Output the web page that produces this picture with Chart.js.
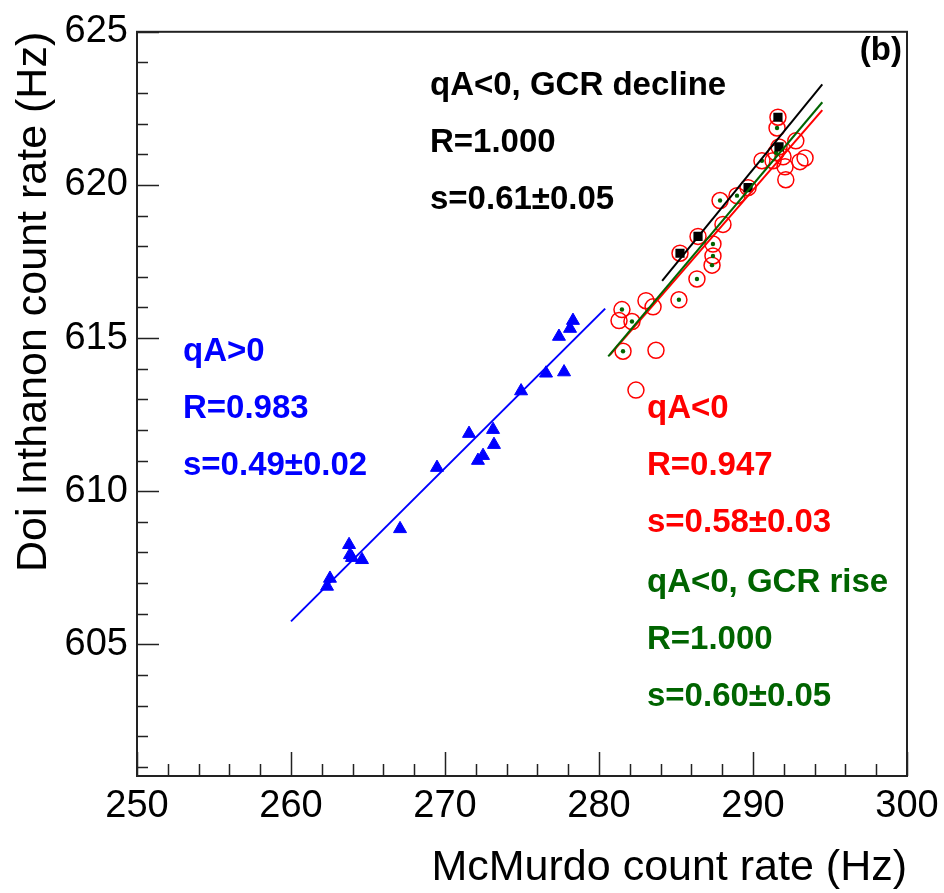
<!DOCTYPE html>
<html>
<head>
<meta charset="utf-8">
<script src="https://cdn.jsdelivr.net/npm/chart.js@4"></script>
<style>
  html, body { margin: 0; padding: 0; background: #fff; }
  #wrap { width: 944px; height: 893px; }
</style>
</head>
<body>
<div id="wrap"><canvas id="c" width="944" height="893"></canvas></div>
<script>
// ─── data ───
// qA>0 (blue triangles)
const posX = [262.34, 262.53, 263.77, 263.83, 263.96, 264.61, 267.08, 269.48, 271.56, 272.14,
              272.47, 273.12, 273.18, 274.94, 276.56, 277.73, 277.40, 278.12, 278.31];
const posY = [606.89, 607.15, 608.25, 607.92, 607.83, 607.76, 608.77, 610.77, 611.88, 611.00,
              611.16, 612.01, 611.52, 613.27, 613.85, 613.89, 615.05, 615.31, 615.57];

// qA<0 (red open circles)
const negX = [291.62, 291.56, 291.69, 292.78, 291.49, 290.58, 291.95, 292.08, 293.05, 293.38,
              292.13, 289.68, 288.96, 287.86, 288.05, 286.43, 287.40, 285.26, 287.40, 287.34,
              286.36, 285.19, 283.05, 283.51, 281.49, 281.30, 282.14, 281.56, 283.70, 282.40, 291.30];
const negY = [622.21, 621.86, 621.24, 621.44, 621.05, 620.79, 620.92, 620.59, 620.76, 620.88,
              620.17, 619.91, 619.65, 619.49, 618.71, 618.32, 618.07, 617.77, 617.68, 617.38,
              616.93, 616.25, 616.22, 616.02, 615.93, 615.57, 615.54, 614.57, 614.60, 613.30, 620.79];

// qA<0, GCR decline (black squares)
const declX = [291.62, 291.69, 289.68, 286.43, 285.26];
const declY = [622.21, 621.24, 619.91, 618.32, 617.77];

// qA<0, GCR rise (green dots)
const riseX = [291.56, 291.49, 290.58, 288.96, 287.86, 287.40, 287.40, 287.34, 286.36, 285.19,
               281.49, 282.14, 281.56];
const riseY = [621.86, 621.05, 620.79, 619.65, 619.49, 618.07, 617.68, 617.38, 616.93, 616.25,
               615.93, 615.54, 614.57];

// fit lines (end points)
const posFitX = [260.0, 280.4],  posFitY = [605.75, 615.96];
const negFitX = [280.7, 294.5],  negFitY = [614.44, 622.44];
const riseFitX = [280.6, 294.5], riseFitY = [614.40, 622.70];
const declFitX = [284.1, 294.5], declFitY = [616.87, 623.28];

// axes
const xTicks = [250, 260, 270, 280, 290, 300];
const yTicks = [605, 610, 615, 620, 625];

// annotation texts
const declText = ['qA<0, GCR decline', 'R=1.000', 's=0.61±0.05'];
const posText  = ['qA>0', 'R=0.983', 's=0.49±0.02'];
const negText  = ['qA<0', 'R=0.947', 's=0.58±0.03'];
const riseText = ['qA<0, GCR rise', 'R=1.000', 's=0.60±0.05'];

const pts = (xs, ys) => xs.map((x, i) => ({ x, y: ys[i] }));

const BLUE = '#0000ff', RED = '#ff0000', GREEN = '#006400', BLACK = '#000000';
const FONT = "'Liberation Sans', Arial, sans-serif";

// ─── frame, inside ticks and labels (ROOT style) ───
const frame = {
  id: 'frame',
  afterDraw(chart) {
    const { ctx, chartArea: a, scales: { x, y } } = chart;
    ctx.save();
    ctx.strokeStyle = '#222';
    ctx.lineWidth = 1.5;
    ctx.beginPath();
    for (let v = Math.ceil(x.min); v <= x.max; v += 2) {
      const px = Math.round(x.getPixelForValue(v)) + 0.5;
      const len = v % 10 === 0 ? 24 : 12;
      ctx.moveTo(px, a.bottom); ctx.lineTo(px, a.bottom - len);
    }
    for (let v = Math.ceil(y.min); v <= y.max; v += 1) {
      const py = Math.round(y.getPixelForValue(v)) + 0.5;
      const len = v % 5 === 0 ? 22 : 11;
      ctx.moveTo(a.left, py); ctx.lineTo(a.left + len, py);
    }
    ctx.stroke();
    ctx.lineWidth = 2;
    ctx.strokeRect(a.left, a.top, a.right - a.left, a.bottom - a.top);

    ctx.font = 'bold 33px ' + FONT;
    ctx.textBaseline = 'alphabetic';
    const block = (lines, left, base, color) => {
      ctx.fillStyle = color;
      lines.forEach((t, i) => ctx.fillText(t, left, base + i * 57));
    };
    block(declText, 430, 95, BLACK);
    block(posText, 183, 361, BLUE);
    block(negText, 647, 418, RED);
    block(riseText, 647, 592, GREEN);
    ctx.textAlign = 'right';
    ctx.fillStyle = BLACK;
    ctx.fillText('(b)', 902, 60);
    ctx.restore();
  }
};

new Chart(document.getElementById('c'), {
  type: 'scatter',
  data: {
    datasets: [
      { data: pts(posFitX, posFitY), showLine: true, borderColor: BLUE, borderWidth: 2,
        pointRadius: 0, order: 1 },
      { data: pts(declFitX, declFitY), showLine: true, borderColor: BLACK, borderWidth: 2,
        pointRadius: 0, order: 1 },
      { data: pts(riseFitX, riseFitY), showLine: true, borderColor: GREEN, borderWidth: 2,
        pointRadius: 0, order: 1 },
      { data: pts(negFitX, negFitY), showLine: true, borderColor: RED, borderWidth: 2,
        pointRadius: 0, order: 1 },
      { data: pts(declX, declY), pointStyle: 'rect', pointRadius: 6.5,
        backgroundColor: BLACK, borderColor: BLACK, borderWidth: 0, order: 2 },
      { data: pts(riseX, riseY), pointStyle: 'circle', pointRadius: 2.2,
        backgroundColor: GREEN, borderColor: GREEN, borderWidth: 0, order: 3 },
      { data: pts(negX, negY), pointStyle: 'circle', pointRadius: 8,
        backgroundColor: 'rgba(0,0,0,0)', borderColor: RED, borderWidth: 1.5, order: 4 },
      { data: pts(posX, posY), pointStyle: 'triangle', pointRadius: 7.5,
        backgroundColor: BLUE, borderColor: BLUE, borderWidth: 1, order: 4 },
    ]
  },
  options: {
    responsive: false, animation: false, devicePixelRatio: 1,
    layout: { padding: { top: 26, right: 37, left: 0, bottom: 0 } },
    plugins: { legend: { display: false }, tooltip: { enabled: false } },
    scales: {
      x: {
        type: 'linear', min: 250, max: 300,
        afterBuildTicks: s => { s.ticks = xTicks.map(v => ({ value: v })); },
        afterFit: s => { s.height = 117; },
        grid: { display: false }, border: { display: false },
        ticks: { color: BLACK, padding: 0, maxRotation: 0, font: { family: FONT, size: 38 } },
        title: { display: true, text: 'McMurdo count rate (Hz)', align: 'end', color: BLACK,
                 padding: { bottom: 3 }, font: { family: FONT, size: 43, lineHeight: 1 } }
      },
      y: {
        type: 'linear', min: 600.7, max: 625,
        afterBuildTicks: s => { s.ticks = yTicks.map(v => ({ value: v })); },
        afterFit: s => { s.width = 137; },
        grid: { display: false, drawTicks: false }, border: { display: false },
        ticks: { color: BLACK, padding: 9, font: { family: FONT, size: 38 } },
        title: { display: true, text: 'Doi Inthanon count rate (Hz)', align: 'end', color: BLACK,
                 padding: { top: 13 }, font: { family: FONT, size: 43, lineHeight: 1 } }
      }
    }
  },
  plugins: [frame]
});
</script>
</body>
</html>
